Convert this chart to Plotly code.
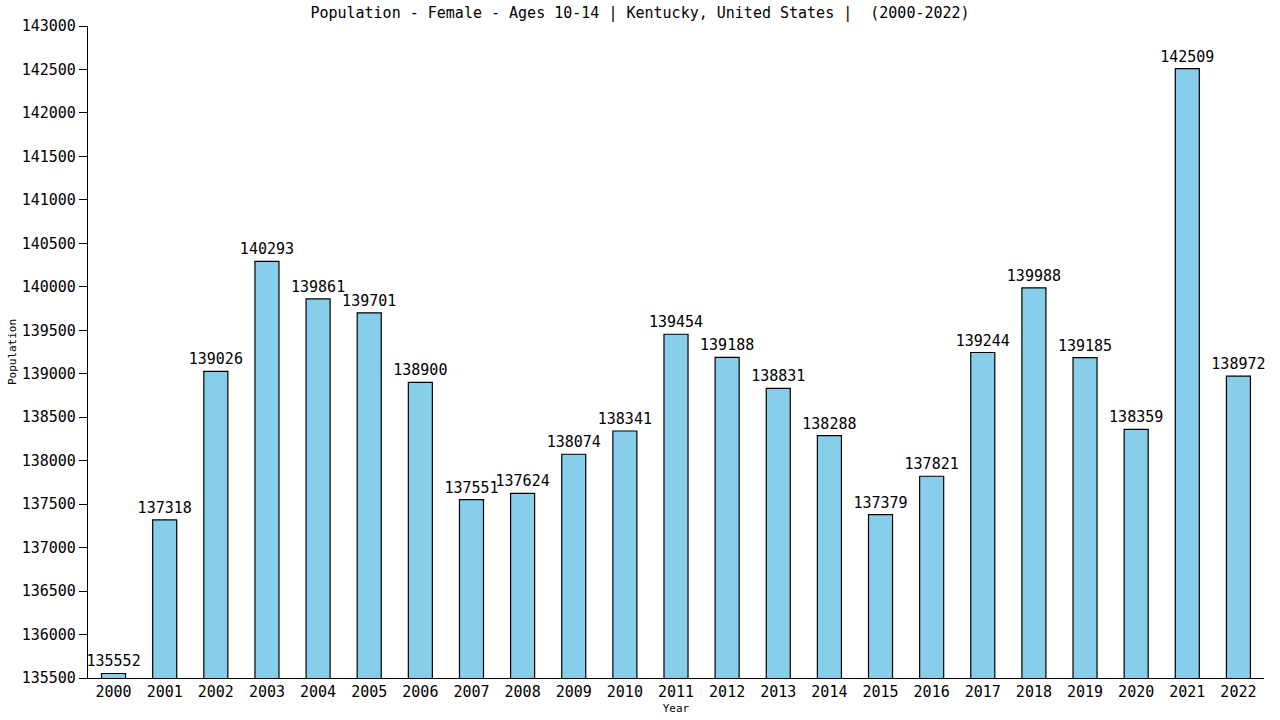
import plotly.graph_objects as go

years = [str(y) for y in range(2000, 2023)]
values = [135552, 137318, 139026, 140293, 139861, 139701, 138900, 137551, 137624, 138074,
          138341, 139454, 139188, 138831, 138288, 137379, 137821, 139244, 139988, 139185,
          138359, 142509, 138972]
y_ticks = list(range(135500, 143001, 500))

FONT = "DejaVu Sans Mono"

fig = go.Figure(go.Bar(
    x=years, y=values,
    width=0.47,
    marker=dict(color="#87CEEB", line=dict(color="#000000", width=1.2)),
    text=[str(v) for v in values], textposition="outside",
    textfont=dict(family=FONT, size=15, color="#000"),
    outsidetextfont=dict(family=FONT, size=15, color="#000"),
    constraintext="none",
    cliponaxis=False,
    hoverinfo="skip",
))

fig.update_layout(
    width=1280, height=720,
    margin=dict(l=88, r=16, t=26, b=42, autoexpand=False),
    paper_bgcolor="white", plot_bgcolor="white",
    title=dict(text="Population - Female - Ages 10-14 | Kentucky, United States |  (2000-2022)",
               x=0.5, xanchor="center", y=0.99, yanchor="top",
               font=dict(family=FONT, size=15, color="#000")),
    showlegend=False,
    font=dict(family=FONT, color="#000"),
)
fig.update_xaxes(
    title=dict(text="Year", font=dict(family=FONT, size=11), standoff=4),
    tickfont=dict(family=FONT, size=15),
    showline=True, linecolor="#000", linewidth=1.2, ticks="", showgrid=False,
    range=[-0.5, 22.5], automargin=False,
)
fig.update_yaxes(
    title=dict(text="Population", font=dict(family=FONT, size=11), standoff=2),
    tickfont=dict(family=FONT, size=15),
    range=[135500, 143000], tickvals=y_ticks, ticktext=[str(t) for t in y_ticks],
    showline=True, linecolor="#000", linewidth=1.2, ticks="outside", ticklen=8, tickcolor="#000",
    showgrid=False, zeroline=False, automargin=False,
)

fig.write_html("out.html", config={"displayModeBar": False},
               post_script="document.body.style.margin='0';")
